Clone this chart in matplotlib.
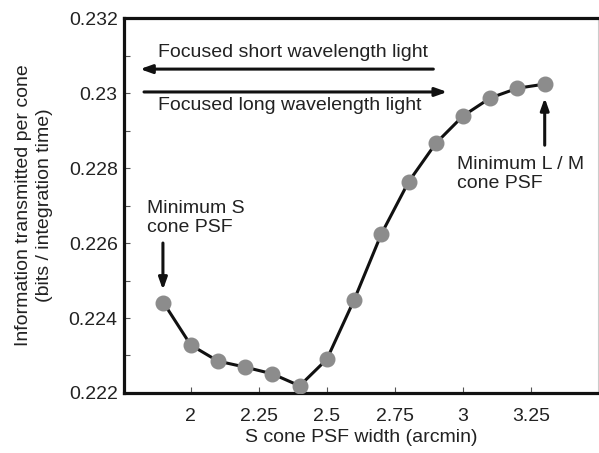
import matplotlib
matplotlib.use("Agg")
import matplotlib.pyplot as plt
from matplotlib.ticker import MultipleLocator

# Data
psf_width = [1.9, 2.0, 2.1, 2.2, 2.3, 2.4, 2.5, 2.6, 2.7, 2.8, 2.9, 3.0, 3.1, 3.2, 3.3]
info = [0.22441, 0.22328, 0.22285, 0.22269, 0.22251, 0.22219, 0.22290, 0.22448,
        0.22624, 0.22763, 0.22866, 0.22939, 0.22987, 0.23013, 0.23024]
x_ticks = [2, 2.25, 2.5, 2.75, 3, 3.25]
x_tick_labels = ["2", "2.25", "2.5", "2.75", "3", "3.25"]
y_ticks = [0.222, 0.224, 0.226, 0.228, 0.23, 0.232]
y_tick_labels = ["0.222", "0.224", "0.226", "0.228", "0.23", "0.232"]

plt.rcParams['font.family'] = ['Liberation Sans', 'DejaVu Sans']

FS = 14
TC = "#222222"

fig = plt.figure(figsize=(5.99, 4.53), dpi=100)
ax = fig.add_axes([0.207, 0.1325, 0.791, 0.8275])

ax.plot(psf_width, info, color="#111111", lw=2.2, zorder=2)
ax.plot(psf_width, info, "o", color="#8c8c8c", ms=10.5, mec="#8c8c8c", zorder=3)

ax.set_xlim(1.755, 3.495)
ax.set_ylim(0.222, 0.232)
ax.set_xticks(x_ticks)
ax.set_xticklabels(x_tick_labels)
ax.set_yticks(y_ticks)
ax.set_yticklabels(y_tick_labels)
ax.yaxis.set_minor_locator(MultipleLocator(0.001))
ax.tick_params(axis="both", which="both", direction="in", length=4, width=0.8,
               color="#555555", labelsize=FS, labelcolor=TC)
ax.tick_params(axis="x", pad=10.5)
ax.tick_params(axis="y", pad=4.5)

for s in ["left", "bottom", "top"]:
    ax.spines[s].set_linewidth(2.3)
    ax.spines[s].set_color("#111111")
ax.spines["right"].set_linewidth(0.8)
ax.spines["right"].set_color("#cccccc")

ax.set_xlabel("S cone PSF width (arcmin)", fontsize=FS, color=TC, va="center")
ax.xaxis.set_label_coords(0.5, -0.12)
ax.set_ylabel("Information transmitted per cone\n(bits / integration time)",
              fontsize=FS, color=TC, va="center", linespacing=1.35)
ax.yaxis.set_label_coords(-0.19, 0.5)

arrow_kw = dict(arrowstyle="-|>,head_length=0.7,head_width=0.25",
                color="#111111", lw=2.2, shrinkA=0, shrinkB=0)

# Top arrows
ax.annotate("", xy=(1.814, 0.23064), xytext=(2.891, 0.23064), arrowprops=arrow_kw)
ax.text(1.88, 0.23107, "Focused short wavelength light", fontsize=FS,
        color=TC, ha="left", va="center")
ax.annotate("", xy=(2.942, 0.23003), xytext=(1.8285, 0.23003), arrowprops=arrow_kw)
ax.text(1.88, 0.22968, "Focused long wavelength light", fontsize=FS,
        color=TC, ha="left", va="center")

# Annotations
ax.text(1.8396, 0.22667, "Minimum S\ncone PSF", fontsize=FS, color=TC,
        ha="left", va="center", linespacing=1.1)
ax.annotate("", xy=(1.898, 0.22475), xytext=(1.898, 0.2260), arrowprops=arrow_kw)
ax.text(2.979, 0.22784, "Minimum L / M\ncone PSF", fontsize=FS, color=TC,
        ha="left", va="center", linespacing=1.1)
ax.annotate("", xy=(3.3, 0.22987), xytext=(3.3, 0.22861), arrowprops=arrow_kw)

fig.savefig("out.png", dpi=100)
